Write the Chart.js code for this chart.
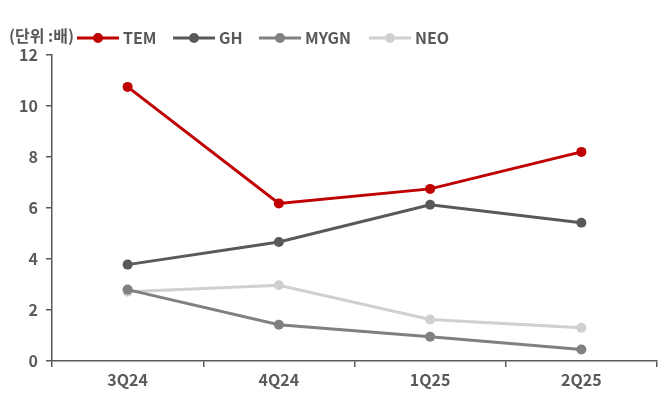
<!DOCTYPE html>
<html>
<head>
<meta charset="utf-8">
<script src="https://cdn.jsdelivr.net/npm/chart.js@4/dist/chart.umd.min.js"></script>
<style>
  html, body { margin: 0; padding: 0; background: #fff; }
  #wrap { width: 670px; height: 394px; }
</style>
</head>
<body>
<div id="wrap"><canvas id="grafico"></canvas></div>
<script>
var categorie = ['3Q24', '4Q24', '1Q25', '2Q25'];
var nomiSerie = ['TEM', 'GH', 'MYGN', 'NEO'];
var valoriTEM = [10.75, 6.18, 6.75, 8.2];
var valoriGH = [3.78, 4.67, 6.13, 5.42];
var valoriMYGN = [2.8, 1.42, 0.95, 0.45];
var valoriNEO = [2.72, 2.97, 1.63, 1.3];
var colori = ['#C00000', '#595959', '#808080', '#D0D0D0'];
var unita = '(단위 :배)';
var fontBase = '"Noto Sans CJK KR", "Noto Sans", sans-serif';

var valori = [valoriTEM, valoriGH, valoriMYGN, valoriNEO];
var datasets = [];
for (var i = 0; i < nomiSerie.length; i++) {
	datasets.push({
		label: nomiSerie[i],
		data: valori[i],
		borderColor: colori[i],
		backgroundColor: colori[i],
		borderWidth: 3,
		pointRadius: 5,
		pointBorderWidth: 0,
		pointHoverRadius: 5,
		tension: 0
	});
}

// legenda disegnata a mano (linea + pallino) e unità in alto
var legendaManuale = {
	id: 'legendaManuale',
	afterDraw: function (chart) {
		var ctx = chart.ctx;
		ctx.save();
		ctx.font = '600 16px ' + fontBase;
		ctx.fillStyle = '#595959';
		ctx.textBaseline = 'middle';
		ctx.fillText(unita, 9, 36);
		var posX = [77, 173, 259, 369];
		for (var i = 0; i < nomiSerie.length; i++) {
			var x = posX[i];
			ctx.strokeStyle = colori[i];
			ctx.lineWidth = 3;
			ctx.beginPath();
			ctx.moveTo(x, 38);
			ctx.lineTo(x + 42, 38);
			ctx.stroke();
			ctx.fillStyle = colori[i];
			ctx.beginPath();
			ctx.arc(x + 21, 38, 5, 0, Math.PI * 2);
			ctx.fill();
			ctx.fillStyle = '#595959';
			ctx.fillText(nomiSerie[i], x + 46, 38);
		}
		ctx.restore();
	}
};

new Chart(document.getElementById('grafico'), {
	type: 'line',
	data: { labels: categorie, datasets: datasets },
	plugins: [legendaManuale],
	options: {
		responsive: true,
		maintainAspectRatio: false,
		animation: false,
		layout: { padding: { top: 55, right: 13, left: 0, bottom: 0 } },
		plugins: { legend: { display: false }, tooltip: { enabled: false } },
		scales: {
			x: {
				offset: true,
				afterFit: function (s) { s.height = 33; },
				grid: { offset: true, drawOnChartArea: false, drawTicks: true, tickLength: 6, color: '#595959', lineWidth: 1.5 },
				border: { color: '#595959', width: 1.5 },
				ticks: { color: '#595959', font: { family: fontBase, size: 16, weight: '600' }, padding: 3 }
			},
			y: {
				min: 0,
				max: 12,
				afterFit: function (s) { s.width = 52; },
				grid: { drawOnChartArea: false, drawTicks: true, tickLength: 6, color: '#595959', lineWidth: 1.5 },
				border: { color: '#595959', width: 1.5 },
				ticks: { stepSize: 2, color: '#595959', font: { family: fontBase, size: 16, weight: '600' }, padding: 8 }
			}
		}
	}
});
</script>
</body>
</html>
